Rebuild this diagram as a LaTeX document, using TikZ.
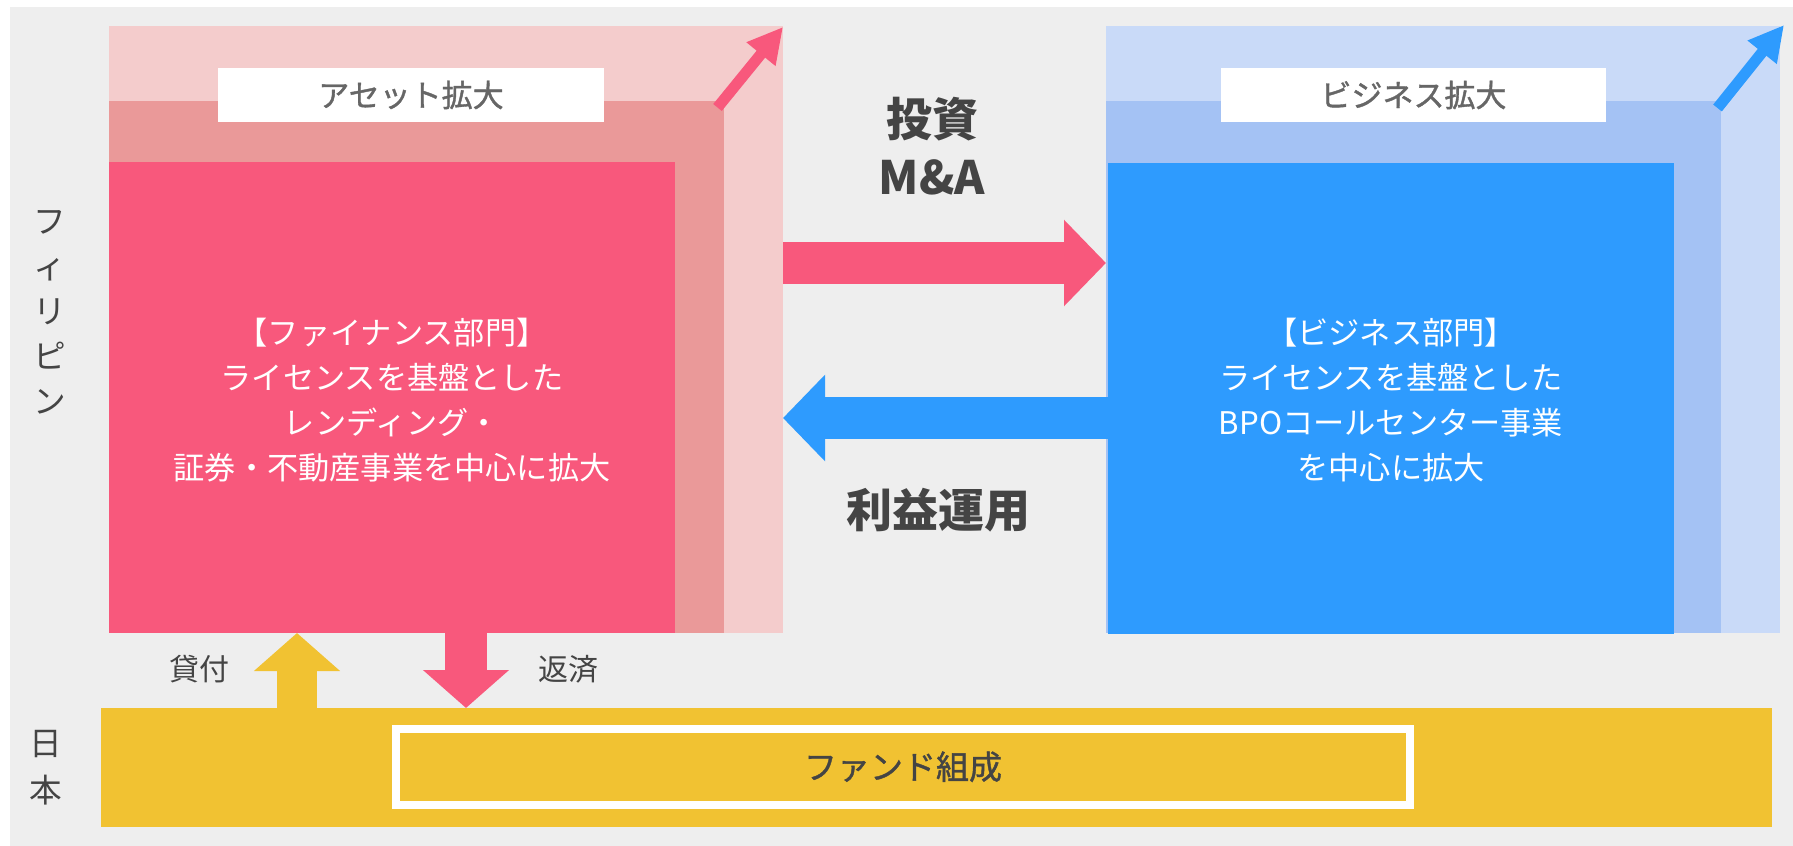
\documentclass[tikz,border=0pt]{standalone}
\usepackage{fontspec}
\setmainfont{Noto Sans CJK JP}
\newfontfamily\jpmedium[BoldFont={Noto Sans CJK JP},BoldFeatures={FakeBold=1.2}]{Noto Sans CJK JP}
\usetikzlibrary{arrows.meta,fit}
\definecolor{bggray}{HTML}{EEEEEE}
\definecolor{pinkL}{HTML}{F4CCCC}
\definecolor{pinkM}{HTML}{EA9999}
\definecolor{pinkD}{HTML}{F8587C}
\definecolor{blueL}{HTML}{C9DAF8}
\definecolor{blueM}{HTML}{A4C2F4}
\definecolor{blueD}{HTML}{2E9BFE}
\definecolor{gold}{HTML}{F1C232}
\definecolor{txt}{HTML}{444444}
\definecolor{txtlight}{HTML}{666666}
\begin{document}
\begin{tikzpicture}[x=0.75pt,y=-0.75pt,
  area/.style={inner sep=0pt, outer sep=0pt, draw=none},
  bodytext/.style={text=white, align=center, inner sep=0pt, font=\fontsize{23.4pt}{33.75pt}\selectfont},
  labeltext/.style={text=txtlight, inner sep=0pt, font=\jpmedium\bfseries\fontsize{23.25pt}{28pt}\selectfont},
  bigtext/.style={text=txt, align=center, inner sep=0pt, font=\bfseries\fontsize{34.5pt}{43.5pt}\selectfont},
  sidetext/.style={text=txt, align=center, inner sep=0pt},
  flowtext/.style={text=txt, inner sep=0pt, font=\fontsize{22.5pt}{27pt}\selectfont},
  blockH/.style={line width=31.5pt, -{Triangle[length=31.5pt,width=63pt]}},
  blockV/.style={line width=31.5pt, -{Triangle[length=28.5pt,width=63pt]}},
  growarrow/.style={line width=8.25pt, -{Triangle[length=26.25pt,width=26.25pt]}}]
\useasboundingbox (0,0) rectangle (1793,846);
\fill[white] (0,0) rectangle (1793,846);
\fill[bggray] (10,7) rectangle (1793,846);

% finance (pink) layers
\node[area, fill=pinkL, fit={(109,26) (783,633)}] (pinkOuter) {};
\node[area, fill=pinkM, fit={(109,101) (723.5,633)}] (pinkMid) {};
\node[area, fill=pinkD, fit={(109,162) (675,633)}] (pinkCore) {};
\node[area, fill=white, fit={(218,68) (604,122)}] (pinkLabel) {};
\node[labeltext] (pinkLabelText) at (pinkLabel.center) {アセット拡大};

% business (blue) layers
\node[area, fill=blueL, fit={(1106,26) (1780,633)}] (blueOuter) {};
\node[area, fill=blueM, fit={(1106,101) (1721,633)}] (blueMid) {};
\node[area, fill=blueD, fit={(1108,163) (1674,634)}] (blueCore) {};
\node[area, fill=white, fit={(1221,68) (1606,122)}] (blueLabel) {};
\node[labeltext] (blueLabelText) at (blueLabel.center) {ビジネス拡大};

% Japan band
\node[area, fill=gold, fit={(101,708) (1772,827)}] (japan) {};
\node[area, fill=gold, draw=white, line width=6pt, fit={(396,729) (1410,804.5)}] (fund) {};
\node[text=txt, inner sep=0pt, font=\jpmedium\bfseries\fontsize{24.75pt}{30pt}\selectfont] (fundText) at (fund.center) {ファンド組成};

% texts in boxes
\node[bodytext] (finText) at (392,400) {【ファイナンス部門】\\ライセンスを基盤とした\\レンディング・\\証券・不動産事業を中心に拡大};
\node[bodytext] (bizText) at (1391,400) {【ビジネス部門】\\ライセンスを基盤とした\\BPOコールセンター事業\\を中心に拡大};

% growth arrows
\coordinate (pgBase) at (717.5,107.5);
\coordinate (pgTip) at (783,27);
\draw[pinkD, growarrow] (pgBase) -- (pgTip);
\coordinate (bgBase) at (1717.5,108);
\coordinate (bgTip) at (1784,25);
\draw[blueD, growarrow] (bgBase) -- (bgTip);

% horizontal flows
\coordinate (yInvest) at (0,263);
\coordinate (yProfit) at (0,418);
\draw[pinkD, blockH] (pinkOuter.east |- yInvest) -- (blueOuter.west |- yInvest);
\draw[blueD, blockH] (blueCore.west |- yProfit) -- (pinkOuter.east |- yProfit);

% vertical flows
\coordinate (xLoan) at (297,0);
\coordinate (xRepay) at (466,0);
\draw[gold, blockV, line width=30pt] (japan.north -| xLoan) -- (pinkCore.south -| xLoan);
\draw[pinkD, blockV] (pinkCore.south -| xRepay) -- (japan.north -| xRepay);

% labels
\node[bigtext] (investText) at (932,146) {投資\\M\&A};
\node[bigtext] (profitText) at (938,510) {利益運用};
\node[flowtext] (loanText) at (199,669) {貸付};
\node[flowtext] (repayText) at (568,669) {返済};
\node[sidetext, font=\fontsize{24.5pt}{33.75pt}\selectfont] (philText) at (50,312) {フ\\ィ\\リ\\ピ\\ン};
\node[sidetext, font=\fontsize{24.5pt}{35.25pt}\selectfont] (japanText) at (46,768) {日\\本};
\end{tikzpicture}
\end{document}
